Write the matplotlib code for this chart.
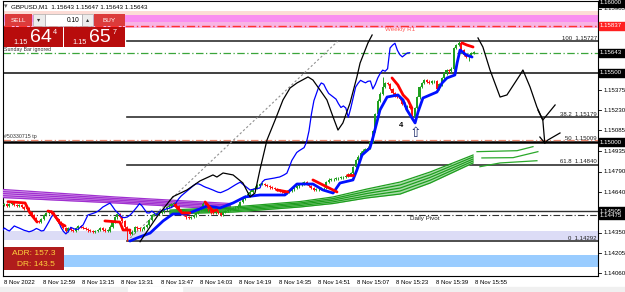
import matplotlib
matplotlib.use("Agg")
import matplotlib.pyplot as plt
import numpy as np
from matplotlib.patches import Rectangle
from matplotlib.transforms import blended_transform_factory

# ---------------- data ----------------
# M1 closes, bar index = minutes after 12:43
closes = [1.14550, 1.14558, 1.14543, 1.14558, 1.14565, 1.14550, 1.14543, 1.14550, 1.14536, 1.14522,
          1.14529, 1.14500, 1.14479, 1.14457, 1.14436, 1.14428, 1.14450, 1.14479, 1.14493, 1.14507,
          1.14493, 1.14471, 1.14450, 1.14428, 1.14407, 1.14385,
          1.14362, 1.14385, 1.14372, 1.14364, 1.14382, 1.14400, 1.14392, 1.14385, 1.14377, 1.14369,
          1.14364, 1.14358, 1.14363, 1.14371, 1.14382, 1.14374, 1.14364, 1.14367, 1.14396, 1.14427,
          1.14461, 1.14487, 1.14463, 1.14433, 1.14390, 1.14361, 1.14343, 1.14360, 1.14390, 1.14382,
          1.14375, 1.14377, 1.14392, 1.14407, 1.14443, 1.14479, 1.14484, 1.14490, 1.14496, 1.14505,
          1.14519, 1.14535, 1.14545, 1.14555, 1.14564, 1.14540, 1.14514, 1.14497, 1.14479, 1.14461,
          1.14460, 1.14464, 1.14476, 1.14494, 1.14515, 1.14537, 1.14560, 1.14544, 1.14519, 1.14494,
          1.14493, 1.14507, 1.14493, 1.14479, 1.14501, 1.14509, 1.14517, 1.14522, 1.14527, 1.14532,
          1.14545, 1.14571, 1.14596, 1.14616, 1.14631, 1.14646, 1.14662, 1.14675, 1.14690, 1.14702,
          1.14702, 1.14695, 1.14685, 1.14677, 1.14671, 1.14664, 1.14657, 1.14649, 1.14642, 1.14639,
          1.14646, 1.14654, 1.14662, 1.14673, 1.14684, 1.14695, 1.14705, 1.14714, 1.14700, 1.14686,
          1.14672, 1.14658, 1.14662, 1.14665, 1.14669, 1.14672, 1.14716, 1.14732, 1.14735, 1.14738,
          1.14741, 1.14744, 1.14748, 1.14751, 1.14759, 1.14768, 1.14779, 1.14823, 1.14870, 1.14898,
          1.14927, 1.14940, 1.14951, 1.14962, 1.15002, 1.15082, 1.15204, 1.15299, 1.15350, 1.15399,
          1.15426, 1.15417, 1.15381, 1.15351, 1.15337, 1.15324, 1.15310, 1.15277, 1.15250, 1.15261,
          1.15246, 1.15180, 1.15245, 1.15322, 1.15397, 1.15424, 1.15445, 1.15435, 1.15427, 1.15438,
          1.15440, 1.15383, 1.15416, 1.15462, 1.15495, 1.15518, 1.15510, 1.15528, 1.15677, 1.15697,
          1.15711, 1.15660, 1.15629, 1.15613, 1.15627, 1.15641, 1.15643]
first_open = 1.14556
wick_overrides = {51: ("low", 1.14292), 155: ("high", 1.15469), 186: ("high", 1.15727),
                  190: ("low", 1.15580)}
chikou_shift = 26

# thick blue line (under price)
blue_m = [52.1, 55.0, 60.3, 65.6, 69.6, 75.3, 79.4, 83.5, 88.8, 94.1, 98.9, 105.0, 115.2, 120.1,
          126.6, 130.7, 134.8, 137.6, 142.9, 144.5, 146.6, 149.8, 151.1, 153.9, 156.8, 161.2, 163.3,
          164.9, 166.9, 168.2, 169.4, 171.4, 174.3, 177.1, 179.2, 181.2, 184.4, 185.3, 186.5, 189.0, 191.4]
blue_p = [1.14292, 1.14314, 1.14349, 1.14436, 1.14486, 1.14486, 1.14514, 1.14543, 1.14529, 1.14565,
          1.14608, 1.14622, 1.14622, 1.14701, 1.14701, 1.14658, 1.14636, 1.14708, 1.14730, 1.14801,
          1.14909, 1.14959, 1.15038, 1.15232, 1.15325, 1.15340, 1.15304, 1.15232, 1.15175, 1.15139,
          1.15218, 1.15318, 1.15340, 1.15361, 1.15426, 1.15462, 1.15483, 1.15569, 1.15662, 1.15627, 1.15612]

# thick red line segments (above price)
red_segments = [
    ([2.4, 9.4, 11.4, 14.3], [1.14574, 1.14565, 1.14493, 1.14428]),
    ([18.7, 20.4, 23.6, 25.7], [1.14507, 1.14500, 1.14421, 1.14400]),
    ([41.9, 48.0, 49.3, 52.1], [1.14436, 1.14428, 1.14371, 1.14371]),
    ([70.4, 73.3, 76.5], [1.14550, 1.14493, 1.14493]),
    ([82.7, 85.9, 87.5], [1.14572, 1.14507, 1.14514]),
    ([112.0, 116.4], [1.14658, 1.14644]),
    ([126.6, 130.7, 134.8, 136.4], [1.14730, 1.14694, 1.14658, 1.14644]),
    ([140.5, 142.9], [1.14766, 1.14766]),
    ([158.8, 161.2, 163.3, 165.3, 166.9], [1.15462, 1.15411, 1.15340, 1.15304, 1.15246]),
    ([187.3, 189.3, 191.8], [1.15713, 1.15698, 1.15684]),
]

# thin black projection line
black_segments = [
    ([56.2, 63.1, 69.6, 75.3, 80.6, 85.9, 87.5, 90.0, 94.1, 98.1, 101.0, 103.0, 105.0, 107.9, 111.2,
      114.4, 117.3, 120.1, 124.6, 126.6, 129.5, 132.3, 134.8, 136.8, 138.8, 141.7, 144.5, 145.8, 149.0, 150.7],
     [1.14287, 1.14466, 1.14610, 1.14658, 1.14723, 1.14766, 1.14751, 1.14780, 1.14766, 1.14708, 1.14608,
      1.14636, 1.14801, 1.15017, 1.15160, 1.15304, 1.15390, 1.15426, 1.15469, 1.15447, 1.15375, 1.15304,
      1.15182, 1.15088, 1.15139, 1.15282, 1.15469, 1.15569, 1.15713, 1.15770]),
    ([193.8, 195.8, 198.7, 202.8, 205.6, 210.9, 212.1, 215.0, 217.8, 220.2, 221.0],
     [1.15749, 1.15684, 1.15519, 1.15325, 1.15340, 1.15483, 1.15519, 1.15397, 1.15253, 1.15160, 1.14995]),
    ([218.2, 220.2, 225.2], [1.15232, 1.15160, 1.15268]),
    ([219.0, 221.0, 222.3, 227.2], [1.15038, 1.14995, 1.15017, 1.15067]),
]

# purple MA ribbon
purple_m = [0.0, 46.0, 93.0]
purple_lines = [[1.14662, 1.14608, 1.14561],
                [1.14647, 1.14597, 1.14550],
                [1.14633, 1.14586, 1.14540],
                [1.14618, 1.14575, 1.14529],
                [1.14604, 1.14565, 1.14518]]

# green MA ribbon
green_m = [68.4, 94.1, 121.3, 134.8, 148.6, 162.1, 174.3, 191.8]
green_lines = [[1.14514, 1.14536, 1.14575, 1.14608, 1.14665, 1.14715, 1.14787, 1.14909],
               [1.14507, 1.14527, 1.14565, 1.14596, 1.14649, 1.14694, 1.14767, 1.14895],
               [1.14500, 1.14518, 1.14556, 1.14585, 1.14633, 1.14672, 1.14748, 1.14880],
               [1.14493, 1.14509, 1.14546, 1.14573, 1.14616, 1.14651, 1.14728, 1.14866],
               [1.14486, 1.14500, 1.14536, 1.14561, 1.14601, 1.14629, 1.14708, 1.14852]]
green_fwd = [([193.4, 209.7, 216.2], [1.14933, 1.14940, 1.14969]),
             ([195.4, 208.1, 218.2], [1.14888, 1.14890, 1.14933]),
             ([194.6, 202.8, 217.8], [1.14825, 1.14852, 1.14868])]

# levels
weekly_r1 = 1.15837
bid = 1.15643
sell_price = 1.15644
buy_price = 1.15657
level_155 = 1.15500
level_150 = 1.15000
tp_level = 1.15020
level_14505 = 1.14505
daily_pivot = 1.14475
fib_start_m = 50.9
fib_end_m = 136.8
fib_levels = [("0", 1.14292), ("38.2", 1.15179), ("50", 1.15009), ("61.8", 1.14840), ("100", 1.15727)]
pink_bands = [(1.15914, 1.15945, "#fcdcd6"), (1.15863, 1.15914, "#f98ef0"), (1.15820, 1.15863, "#f8b4e4")]
lav_band = (1.14299, 1.14366)
blue_band = (1.14108, 1.14192)

x_labels = ["8 Nov 2022", "8 Nov 12:59", "8 Nov 13:15", "8 Nov 13:31", "8 Nov 13:47", "8 Nov 14:03",
            "8 Nov 14:19", "8 Nov 14:35", "8 Nov 14:51", "8 Nov 15:07", "8 Nov 15:23", "8 Nov 15:39",
            "8 Nov 15:55"]
y_tick_labels = [("1.15985", 1.15957), ("1.15375", 1.15375), ("1.15230", 1.15230), ("1.15085", 1.15085),
                 ("1.14935", 1.14935), ("1.14790", 1.14790), ("1.14640", 1.14640), ("1.14350", 1.14350),
                 ("1.14205", 1.14205), ("1.14060", 1.14060)]
axis_boxes = [("1.16000", 1.16000, "black"), ("1.15837", 1.15837, "#ff2020"), ("1.15643", 1.15643, "black"),
              ("1.15500", 1.15500, "black"), ("1.15000", 1.15000, "black"), ("1.14505", 1.14505, "black"),
              ("1.14475", 1.14475, "black")]

# ---------------- figure ----------------
W, H = 625, 292
FONT = "Liberation Sans"
plt.rcParams['font.family'] = [FONT, 'DejaVu Sans']
fig = plt.figure(figsize=(W / 100, H / 100), dpi=100)
L, R, T, B = 3, 598, 1, 276
ax = fig.add_axes([L / W, 1 - B / H, (R - L) / W, (B - T) / H])
PX = 13937.0  # pixels per price unit
ax.set_ylim(1.14292 - 35 / PX, 1.14292 + 240 / PX)
ax.set_xlim((L - 2) / 2.456, (R - 2) / 2.456)
ax.set_xticks([]); ax.set_yticks([])
for s in ax.spines.values():
    s.set_color("black"); s.set_linewidth(0.8)

def fx(x):
    return x / W

def fy(y):
    return 1 - y / H

xmin, xmax = ax.get_xlim()

# bands
for lo_, hi_, c_ in pink_bands:
    ax.axhspan(lo_, hi_, color=c_, lw=0, zorder=0)
ax.axhspan(*lav_band, color="#dcdcf6", lw=0, zorder=0)
ax.axhspan(*blue_band, color="#99ccff", lw=0, zorder=0)

# horizontal lines
ax.axhline(weekly_r1, color="#ff3030", lw=1.0, ls=(0, (6, 2, 1, 2)), zorder=2)
ax.axhline(bid, color="#3aa53a", lw=0.9, ls=(0, (6, 2, 1, 2)), zorder=2)
ax.axhline(level_155, color="#303030", lw=1.3, zorder=2)
ax.axhline(level_150, color="black", lw=1.8, zorder=2)
ax.axhline(tp_level, color="#f08a70", lw=0.9, ls=(0, (6, 2, 1, 2)), zorder=2)
ax.axhline(level_14505, color="#303030", lw=1.0, zorder=2)
ax.axhline(daily_pivot, color="#303030", lw=0.8, ls=(0, (6, 2, 1, 2)), zorder=2)
for name, lv in fib_levels:
    if name != "50":
        ax.plot([fib_start_m, xmax], [lv, lv], color="#303030", lw=1.2, zorder=2)
    ax.text(xmax - 0.5, lv + 0.00003, f"{name}  {lv:.5f}", fontsize=4.3, ha="right", va="bottom",
            color="#202020", zorder=6)
ax.plot([fib_start_m, fib_end_m], [fib_levels[0][1], fib_levels[4][1]], color="#909090", lw=0.8,
        ls=(0, (2, 2)), zorder=2)

# ribbons
pm = np.array(purple_m)
ax.fill_between(pm, purple_lines[0], purple_lines[-1], color="#d9a6ec", lw=0, zorder=3)
for ln in purple_lines:
    ax.plot(pm, ln, color="#a030d0", lw=0.9, zorder=3)
gm = np.array(green_m)
ax.fill_between(gm, green_lines[0], green_lines[-1], color="#a8dca8", lw=0, zorder=3)
for ln in green_lines:
    ax.plot(gm, ln, color="#1e9e1e", lw=0.9, zorder=3)
for xs, ys in green_fwd:
    ax.plot(xs, ys, color="#2aa82a", lw=0.9, zorder=3)

# candles
c = np.array(closes)
o = np.concatenate([[first_open], c[:-1]])
n = len(c)
idx = np.arange(n)
hi = np.maximum(o, c) + 0.00009
lo = np.minimum(o, c) - 0.00009
for k, (kind, v) in wick_overrides.items():
    if kind == "low":
        lo[k] = v
    else:
        hi[k] = v
up = c >= o
col = np.where(up, "#1fa01f", "#ff1010")
ax.vlines(idx, lo, hi, colors=col, lw=0.7, zorder=4)
body_h = np.where(np.abs(c - o) < 0.00004, 0.00004, np.abs(c - o))
ax.bar(idx, body_h, bottom=np.minimum(o, c), width=0.85, color=col, lw=0, zorder=4)

# indicators
ch_x = idx[chikou_shift:] - chikou_shift
ax.plot(ch_x, c[chikou_shift:], color="#0000ff", lw=0.9, zorder=5)
ax.plot(blue_m, blue_p, color="#0010ff", lw=2.0, zorder=5, solid_capstyle="round")
for xs, ys in red_segments:
    ax.plot(xs, ys, color="#ff0000", lw=2.0, zorder=5, solid_capstyle="round")
for xs, ys in black_segments:
    ax.plot(xs, ys, color="black", lw=0.9, zorder=5)

# chart texts
ax.text(162.1, 1.15806, "Weekly R1", fontsize=4.5, color="#ff5a5a", ha="center", va="center", zorder=6)
ax.text(172.2, 1.14452, "Daily Pivot", fontsize=4.5, color="#202020", ha="center", va="center", zorder=6)
ax.text(1.0, tp_level + 0.00004, "#50330715 tp", fontsize=3.8, color="#303030", ha="left", va="bottom", zorder=6)
ax.text(1.0, bid + 0.00004, "Sunday Bar ignored", fontsize=3.8, color="#303030", ha="left", va="bottom", zorder=6)
ax.text(162.6, 1.15120, "4", fontsize=5.5, fontweight="bold", color="black", ha="center", va="center", zorder=6)
ax.text(168.2, 1.15070, "\u21e7", fontsize=10, color="#1a2a6a", ha="center", va="center", zorder=6,
        family="DejaVu Sans")

# right price axis
ybt = blended_transform_factory(fig.transFigure, ax.transData)
for txt, v in y_tick_labels:
    fig.text(fx(604), v, txt, transform=ybt, fontsize=4.4, va="center", ha="left", color="black")
    fig.lines.append(plt.Line2D([fx(598), fx(601)], [v, v], transform=ybt, color="black", lw=0.6))
for txt, v, colr in axis_boxes:
    fig.patches.append(Rectangle((fx(599), v - 4 / PX), 26 / W, 8 / PX, transform=ybt, color=colr, zorder=5))
    fig.text(fx(600), v, txt, transform=ybt, fontsize=4.4, va="center", ha="left", color="white",
             zorder=6)

# x axis labels
for k, lab in enumerate(x_labels):
    m = 16 * k
    xpix = 2 + 2.456 * m
    fig.lines.append(plt.Line2D([fx(xpix), fx(xpix)], [fy(276), fy(279)], color="black", lw=0.6))
    fig.text(fx(xpix + 1.5), fy(282), lab, fontsize=4.3, ha="left", va="center", color="black")

# bottom tab strip
fig.patches.append(Rectangle((0, 0), 1, fy(287), transform=fig.transFigure, color="#f0f0f0", zorder=0))
fig.lines.append(plt.Line2D([0, 1], [fy(287), fy(287)], color="#a0a0a0", lw=0.6))
fig.patches.append(Rectangle((fx(128), 0), 54 / W, fy(287), transform=fig.transFigure, color="white", zorder=1))

# title
fig.text(fx(11), fy(6.5), "GBPUSD,M1  1.15643 1.15647 1.15643 1.15643", fontsize=4.5, ha="left",
         va="center", color="black")
fig.text(fx(5.5), fy(6.5), "\u25be", fontsize=5, ha="center", va="center", color="#606060",
         family="DejaVu Sans")

def frect(x0, y0, x1, y1, color, z=5, ec=None, lw=0):
    fig.patches.append(Rectangle((fx(x0), fy(y1)), (x1 - x0) / W, (y1 - y0) / H,
                                 transform=fig.transFigure, facecolor=color, edgecolor=ec or color,
                                 lw=lw, zorder=z))

# one-click trading panel
frect(5, 14, 32, 26, "#dc3b3b")
fig.text(fx(18.5), fy(20), "SELL", fontsize=4.6, color="white", ha="center", va="center", zorder=6)
frect(32.5, 14, 45, 26, "#ececec", ec="#a0a0a0", lw=0.4)
fig.text(fx(38.7), fy(20), "\u25be", fontsize=4.5, color="#303030", ha="center", va="center", zorder=6,
         family="DejaVu Sans")
frect(45, 14, 82, 26, "white", ec="#a0a0a0", lw=0.4)
fig.text(fx(79), fy(20), "0.10", fontsize=4.8, color="black", ha="right", va="center", zorder=6)
frect(82, 14, 93, 26, "#ececec", ec="#a0a0a0", lw=0.4)
fig.text(fx(87.5), fy(20), "\u25b4", fontsize=4.5, color="#303030", ha="center", va="center", zorder=6,
         family="DejaVu Sans")
frect(94, 14, 125, 26, "#dc3b3b")
fig.text(fx(109.5), fy(20), "BUY", fontsize=4.6, color="white", ha="center", va="center", zorder=6)
frect(4, 27, 63, 47, "#b80c0c")
frect(64, 27, 125, 47, "#b80c0c")
for (x_small, x_big, x_sup, price) in [(13, 30, 53, sell_price), (72, 89, 113, buy_price)]:
    s = f"{price:.5f}"
    fig.text(fx(x_small), fy(42), s[:4], fontsize=5.2, color="white", ha="left", va="center", zorder=6)
    fig.text(fx(x_big), fy(37.5), s[4:6], fontsize=14, color="white", ha="left", va="center", zorder=6)
    fig.text(fx(x_sup), fy(32.5), s[6], fontsize=5.2, color="white", ha="left", va="center", zorder=6)

# ADR box
frect(4, 247, 64, 270, "#b01c1c", z=7)
fig.text(fx(55), fy(253.5), "ADR: 157.3", fontsize=6, color="#ffd23c", ha="right", va="center", zorder=8)
fig.text(fx(55), fy(264), "DR: 143.5", fontsize=6, color="#ffd23c", ha="right", va="center", zorder=8)

fig.savefig("out.png", dpi=100)
